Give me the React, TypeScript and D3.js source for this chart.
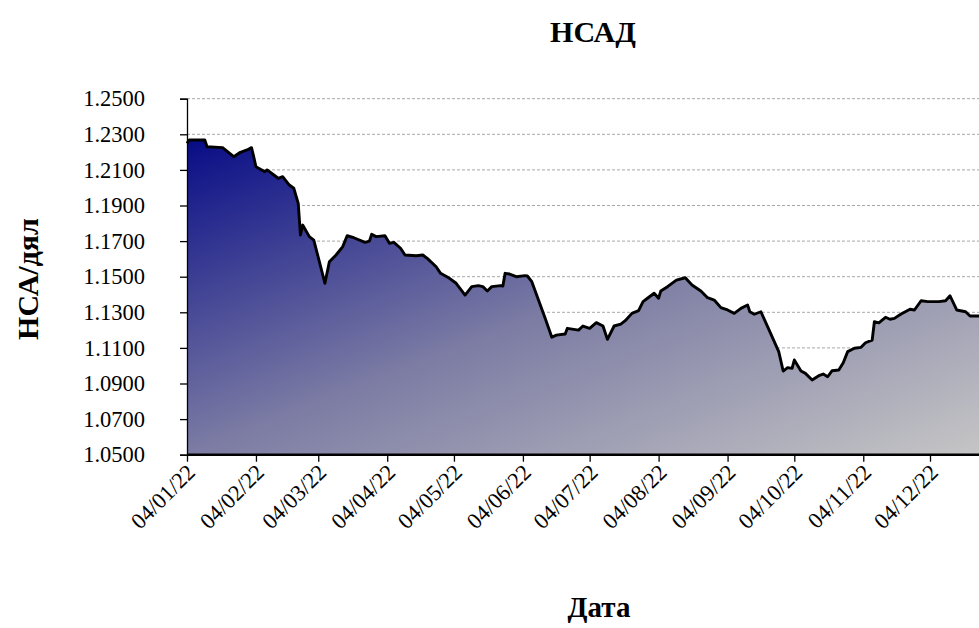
import React, { useEffect, useRef } from 'react'
import * as d3 from 'd3'

// НСАД / дял, 2022
const dates = [
  '2022-01-04', '2022-01-05', '2022-01-12', '2022-01-13', '2022-01-20', '2022-01-25', '2022-01-28', '2022-01-31',
  '2022-02-02', '2022-02-03', '2022-02-04', '2022-02-08', '2022-02-09', '2022-02-14', '2022-02-16', '2022-02-19',
  '2022-02-21', '2022-02-23', '2022-02-24', '2022-02-25', '2022-02-28', '2022-03-02', '2022-03-07', '2022-03-09',
  '2022-03-12', '2022-03-15', '2022-03-17', '2022-03-20', '2022-03-25', '2022-03-27', '2022-03-28', '2022-03-30',
  '2022-04-03', '2022-04-05', '2022-04-07', '2022-04-10', '2022-04-12', '2022-04-17', '2022-04-20', '2022-04-22',
  '2022-04-26', '2022-04-28', '2022-05-02', '2022-05-05', '2022-05-09', '2022-05-12', '2022-05-15', '2022-05-17',
  '2022-05-19', '2022-05-21', '2022-05-25', '2022-05-26', '2022-05-27', '2022-05-29', '2022-06-01', '2022-06-05',
  '2022-06-06', '2022-06-08', '2022-06-11', '2022-06-14', '2022-06-17', '2022-06-19', '2022-06-23', '2022-06-24',
  '2022-06-29', '2022-07-01', '2022-07-04', '2022-07-07', '2022-07-10', '2022-07-12', '2022-07-15', '2022-07-18',
  '2022-07-20', '2022-07-23', '2022-07-26', '2022-07-28', '2022-07-30', '2022-08-02', '2022-08-04', '2022-08-05',
  '2022-08-08', '2022-08-12', '2022-08-16', '2022-08-19', '2022-08-23', '2022-08-26', '2022-08-29', '2022-09-01',
  '2022-09-04', '2022-09-07', '2022-09-10', '2022-09-13', '2022-09-14', '2022-09-16', '2022-09-19', '2022-09-23',
  '2022-09-27', '2022-09-29', '2022-10-01', '2022-10-03', '2022-10-04', '2022-10-07', '2022-10-09', '2022-10-12',
  '2022-10-15', '2022-10-17', '2022-10-19', '2022-10-21', '2022-10-24', '2022-10-26', '2022-10-28', '2022-10-31',
  '2022-11-03', '2022-11-05', '2022-11-08', '2022-11-09', '2022-11-11', '2022-11-14', '2022-11-16', '2022-11-18',
  '2022-11-21', '2022-11-25', '2022-11-27', '2022-11-30', '2022-12-03', '2022-12-08', '2022-12-11', '2022-12-13',
  '2022-12-16', '2022-12-20', '2022-12-22', '2022-12-26', '2022-12-30',
]

const rates = [
  1.2249, 1.2268, 1.2268, 1.2230, 1.2225, 1.2174, 1.2199, 1.2212,
  1.2225, 1.2174, 1.2118, 1.2090, 1.2100, 1.2053, 1.2062, 1.2015,
  1.1997, 1.1912, 1.1734, 1.1790, 1.1725, 1.1706, 1.1463, 1.1584,
  1.1622, 1.1669, 1.1730, 1.1719, 1.1693, 1.1700, 1.1738, 1.1725,
  1.1730, 1.1688, 1.1693, 1.1660, 1.1622, 1.1618, 1.1622, 1.1603,
  1.1556, 1.1519, 1.1491, 1.1463, 1.1397, 1.1444, 1.1450, 1.1444,
  1.1420, 1.1444, 1.1450, 1.1448, 1.1519, 1.1515, 1.1500, 1.1506,
  1.1504, 1.1472, 1.1369, 1.1266, 1.1160, 1.1172, 1.1178, 1.1210,
  1.1200, 1.1223, 1.1210, 1.1242, 1.1223, 1.1148, 1.1223, 1.1234,
  1.1253, 1.1294, 1.1309, 1.1360, 1.1379, 1.1407, 1.1379, 1.1420,
  1.1444, 1.1481, 1.1494, 1.1453, 1.1420, 1.1382, 1.1369, 1.1326,
  1.1313, 1.1294, 1.1322, 1.1341, 1.1303, 1.1289, 1.1303, 1.1191,
  1.1079, 1.0970, 1.0989, 1.0985, 1.1032, 1.0970, 1.0957, 1.0920,
  1.0944, 1.0953, 1.0938, 1.0972, 1.0976, 1.1017, 1.1079, 1.1098,
  1.1103, 1.1129, 1.1144, 1.1247, 1.1241, 1.1272, 1.1261, 1.1266,
  1.1290, 1.1317, 1.1313, 1.1365, 1.1360, 1.1360, 1.1365, 1.1393,
  1.1313, 1.1303, 1.1279, 1.1279, 1.1279,
]

const xTicks = [
  '2022-01-04', '2022-02-04', '2022-03-04', '2022-04-04', '2022-05-04', '2022-06-04',
  '2022-07-04', '2022-08-04', '2022-09-04', '2022-10-04', '2022-11-04', '2022-12-04',
]
const yTicks = [1.05, 1.07, 1.09, 1.11, 1.13, 1.15, 1.17, 1.19, 1.21, 1.23, 1.25]

const title = 'НСАД'
const xTitle = 'Дата'
const yTitle = 'НСА/дял'

const W = 979
const H = 628
const FONT = '"Liberation Serif", "Times New Roman", serif'

export default function App() {
  const ref = useRef<SVGSVGElement>(null)

  useEffect(() => {
    const parse = d3.utcParse('%Y-%m-%d')
    const data = dates.map((d, i) => ({ date: parse(d) as Date, value: rates[i] }))
    const left = 187, top = 98.7, bottom = 454.7

    const x = d3.scaleUtc()
      .domain([parse(xTicks[0]) as Date, parse(xTicks[xTicks.length - 1]) as Date])
      .range([left, 930])
    const y = d3.scaleLinear().domain([1.05, 1.25]).range([bottom, top])

    const svg = d3.select(ref.current)
    svg.selectAll('*').remove()

    const grad = svg.append('defs').append('linearGradient')
      .attr('id', 'fillgrad')
      .attr('x1', 0).attr('y1', 0).attr('x2', 1).attr('y2', 1)
    grad.append('stop').attr('offset', 0).attr('stop-color', '#080c86')
    grad.append('stop').attr('offset', 0.5).attr('stop-color', '#7c7ca4')
    grad.append('stop').attr('offset', 1).attr('stop-color', '#c6c6c6')

    // grid
    svg.append('g')
      .selectAll('line')
      .data(yTicks.slice(1))
      .enter().append('line')
      .attr('x1', left).attr('x2', W)
      .attr('y1', d => y(d)).attr('y2', d => y(d))
      .style('stroke', '#a8a8a8')
      .style('stroke-dasharray', '3,2')
      .style('stroke-width', 1)

    const area = d3.area<{ date: Date, value: number }>()
      .x(d => x(d.date)).y0(bottom).y1(d => y(d.value))
    const line = d3.line<{ date: Date, value: number }>()
      .x(d => x(d.date)).y(d => y(d.value))

    svg.append('path').datum(data)
      .attr('d', area)
      .style('fill', 'url(#fillgrad)')

    svg.append('path').datum(data)
      .attr('d', line)
      .style('fill', 'none')
      .style('stroke', '#000')
      .style('stroke-width', 2.9)
      .style('stroke-linejoin', 'round')

    // y axis
    const yAxis = d3.axisLeft(y)
      .tickValues(yTicks)
      .tickSize(7)
      .tickPadding(35)
      .tickFormat(d3.format('.4f'))
    const gy = svg.append('g')
      .attr('transform', 'translate(' + left + ',0)')
      .call(yAxis)
    gy.select('.domain').style('stroke', '#000').style('stroke-width', 1.3)
    gy.selectAll('.tick line').style('stroke', '#000').style('stroke-width', 1.3)
    gy.selectAll('.tick text')
      .style('font-family', FONT)
      .style('font-size', '22.5px')
      .style('fill', '#000')

    // x axis
    const xAxis = d3.axisBottom(x)
      .tickValues(xTicks.map(d => parse(d) as Date))
      .tickSize(7)
      .tickFormat(d => d3.utcFormat('%d/%m/%y')(d as Date))
    const gx = svg.append('g')
      .attr('transform', 'translate(0,' + bottom + ')')
      .call(xAxis)
    gx.select('.domain').remove()
    gx.append('line')
      .attr('x1', left).attr('x2', W)
      .style('stroke', '#000').style('stroke-width', 2.4)
    gx.selectAll('.tick line').style('stroke', '#000').style('stroke-width', 1.3)
    gx.selectAll('.tick text')
      .attr('y', 0).attr('dy', 0)
      .attr('transform', 'translate(9,19) rotate(-45)')
      .style('text-anchor', 'end')
      .style('font-family', FONT)
      .style('font-size', '22.5px')
      .style('fill', '#000')

    // titles
    svg.append('text')
      .attr('x', 593).attr('y', 42)
      .style('text-anchor', 'middle')
      .style('font-family', FONT).style('font-weight', 'bold').style('font-size', '30px')
      .text(title)
    svg.append('text')
      .attr('x', 599).attr('y', 617)
      .style('text-anchor', 'middle')
      .style('font-family', FONT).style('font-weight', 'bold').style('font-size', '29px')
      .text(xTitle)
    svg.append('text')
      .attr('transform', 'translate(38,279) rotate(-90)')
      .style('text-anchor', 'middle')
      .style('font-family', FONT).style('font-weight', 'bold').style('font-size', '30px')
      .text(yTitle)
  }, [])

  return (
    <svg ref={ref} width={W} height={H}
      style={{ position: 'absolute', left: 0, top: 0, background: '#fff', overflow: 'hidden' }} />
  )
}
